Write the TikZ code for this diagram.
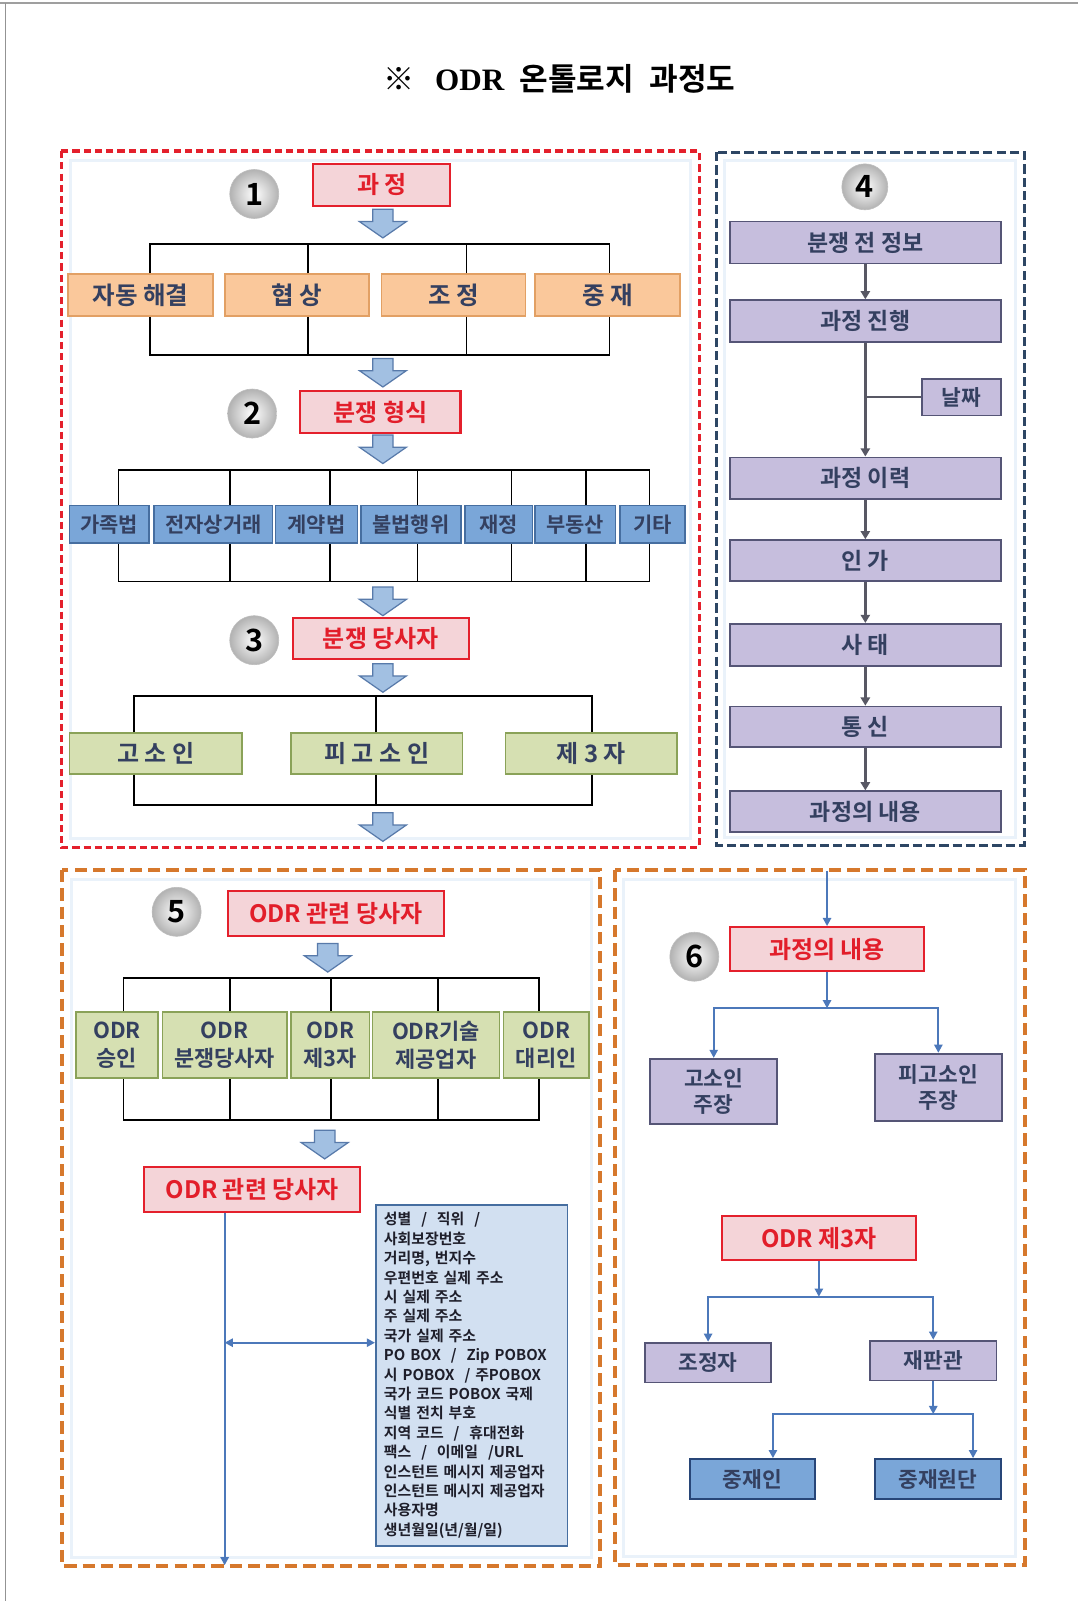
\documentclass[tikz,border=0pt]{standalone}
\usepackage{fontspec}
\setmainfont{Noto Sans CJK KR}[BoldFont={Noto Sans CJK KR Bold}]
\newfontfamily\titleserif{Liberation Serif}
\usetikzlibrary{calc,arrows.meta}

\definecolor{redline}{RGB}{228,32,44}
\definecolor{redfill}{RGB}{244,212,216}
\definecolor{redtext}{RGB}{226,30,42}
\definecolor{orgfill}{RGB}{250,200,155}
\definecolor{orgline}{RGB}{226,160,100}
\definecolor{bluefill}{RGB}{122,166,216}
\definecolor{blueline}{RGB}{70,110,160}
\definecolor{bluedark}{RGB}{40,70,120}
\definecolor{grnfill}{RGB}{214,224,178}
\definecolor{grnline}{RGB}{138,162,88}
\definecolor{purfill}{RGB}{198,190,221}
\definecolor{purline}{RGB}{85,85,118}
\definecolor{boxtext}{RGB}{52,64,96}
\definecolor{paneltwo}{RGB}{45,70,100}
\definecolor{panelorg}{RGB}{214,120,44}
\definecolor{arrfill}{RGB}{162,192,226}
\definecolor{arrline}{RGB}{88,122,170}
\definecolor{conblue}{RGB}{76,120,186}
\definecolor{congray}{RGB}{88,88,100}
\definecolor{infofill}{RGB}{210,224,241}
\definecolor{infotext}{RGB}{30,30,42}
\definecolor{glow}{RGB}{234,242,250}

\tikzset{
  basebox/.style={draw, line width=1.5pt, inner sep=0pt, align=center, text=boxtext},
  redbox/.style={basebox, draw=redline, fill=redfill, line width=2pt, text=redtext,
    font=\bfseries\fontsize{23.5}{27}\selectfont},
  orgbox/.style={basebox, draw=orgline, fill=orgfill, minimum height=41,
    font=\bfseries\fontsize{24}{28}\selectfont},
  bluebox/.style={basebox, draw=blueline, fill=bluefill, minimum height=37,
    font=\bfseries\fontsize{20.5}{24}\selectfont},
  grnbox/.style={basebox, draw=grnline, fill=grnfill,
    font=\bfseries\fontsize{23.5}{27}\selectfont},
  grnbox2/.style={basebox, draw=grnline, fill=grnfill, minimum height=65,
    font=\bfseries\fontsize{21.5}{27}\selectfont},
  purbox/.style={basebox, draw=purline, fill=purfill, line width=1.8pt,
    font=\bfseries\fontsize{22.5}{26}\selectfont},
  purbox2/.style={purbox, font=\bfseries\fontsize{21}{25}\selectfont},
  dblbox/.style={basebox, draw=bluedark, fill=bluefill, line width=1.8pt,
    font=\bfseries\fontsize{21}{24}\selectfont},
  infobox/.style={draw=blueline, fill=infofill, line width=1.5pt, inner xsep=8pt,
    inner ysep=0pt, align=left, text=infotext,
    font=\bfseries\fontsize{14.6}{19}\selectfont},
  numball/.style={circle, minimum size=48, inner sep=0pt, inner color=white,
    outer color={rgb,255:red,178;green,178;blue,178},
    draw={rgb,255:red,190;green,190;blue,190}, line width=0.6pt, text=black,
    font=\bfseries\fontsize{30}{32}\selectfont},
  tree/.style={draw=black, line width=1.7pt},
  garrow/.style={draw=congray, line width=2.4pt, -{Triangle[length=8pt,width=9pt]}},
  gline/.style={draw=congray, line width=2.4pt},
  barrow/.style={draw=conblue, line width=2pt, -{Triangle[length=8pt,width=8pt]}},
  bdarrow/.style={draw=conblue, line width=2pt,
    {Triangle[length=8pt,width=8pt]}-{Triangle[length=8pt,width=8pt]}},
  redpanel/.style={draw=redline, line width=3.2pt, dash pattern=on 7pt off 4pt},
  navypanel/.style={draw=paneltwo, line width=3pt, dash pattern=on 9pt off 4pt},
  orgpanel/.style={draw=panelorg, line width=4pt, dash pattern=on 12pt off 6pt},
  innerglow/.style={draw=glow, line width=3pt},
  darrow/.pic={
    \draw[fill=arrfill, draw=arrline, line width=1.2pt, line join=miter]
      (-10,0) -- (10,0) -- (10,12) -- (23,12) -- (0,28) -- (-23,12) -- (-10,12) -- cycle;
  }
}

\begin{document}
\begin{tikzpicture}[x=1pt, y=-1pt]
\useasboundingbox (0,0) rectangle (1056,1568);
\fill[white] (0,0) rectangle (1056,1568);

% page frame
\draw[gray!75, line width=1.5pt] (0,3) -- (1056,3);
\draw[gray!85, line width=1pt] (5,3) -- (5,1568);

% title
\node (title) at (548,77) {\bfseries\fontsize{30.5}{33}\selectfont ※\hspace{20pt}{\titleserif ODR}\hspace{15pt}온톨로지\hspace{15pt}과정도};

% panel frames
\draw[innerglow] (69,157) rectangle (676,821);
\draw[redpanel] (60,148) rectangle (685,830);
\draw[innerglow] (710,157) rectangle (995,820);
\draw[navypanel] (702,149) rectangle (1003,828);
\draw[innerglow] (70,861) rectangle (579,1525);
\draw[orgpanel] (61,852) rectangle (588,1534);
\draw[innerglow] (611,861) rectangle (995,1524);
\draw[orgpanel] (602,852) rectangle (1004,1533);

% ---------------- section 1: process ----------------
\node[numball] (n1) at (249,190) {1};
\node[redbox, minimum width=134, minimum height=41] (r1) at (374,181) {과 정};
\pic at (375,205) {darrow};

\node[orgbox, minimum width=142] (k1) at (137.5,289) {자동 해결};
\node[orgbox, minimum width=141] (k2) at (291,289) {협 상};
\node[orgbox, minimum width=141] (k3) at (444,289) {조 정};
\node[orgbox, minimum width=142] (k4) at (595,289) {중 재};

\coordinate (bt1) at (0,239);
\coordinate (bb1) at (0,348);
\draw[tree] ([xshift=9.5]k1.north) |- ([xshift=2]k4.north |- bt1) -- ([xshift=2]k4.north);
\draw[tree] ([xshift=9.5]k1.south) |- ([xshift=2]k4.south |- bb1) -- ([xshift=2]k4.south);
\foreach \n/\o in {k2/11,k3/13}{
  \draw[tree] ([xshift=\o]\n.north) -- ([xshift=\o]\n.north |- bt1);
  \draw[tree] ([xshift=\o]\n.south) -- ([xshift=\o]\n.south |- bb1);
}
\pic at (375,351) {darrow};

% ---------------- section 2: dispute type ----------------
\node[numball] (n2) at (247,405) {2};
\node[redbox, minimum width=157, minimum height=41] (r2) at (372.5,403.5) {분쟁 형식};
\pic at (375,426) {darrow};

\node[bluebox, minimum width=78] (b1) at (107,513.5) {가족법};
\node[bluebox, minimum width=116] (b2) at (209,513.5) {전자상거래};
\node[bluebox, minimum width=80] (b3) at (310,513.5) {계약법};
\node[bluebox, minimum width=98] (b4) at (402.5,513.5) {불법행위};
\node[bluebox, minimum width=66] (b5) at (488.5,513.5) {재정};
\node[bluebox, minimum width=79] (b6) at (563.5,513.5) {부동산};
\node[bluebox, minimum width=64] (b7) at (639,513.5) {기타};

\coordinate (bt2) at (0,460.5);
\coordinate (bb2) at (0,569.5);
\draw[tree] ([xshift=9]b1.north) |- ([xshift=-3]b7.north |- bt2) -- ([xshift=-3]b7.north);
\draw[tree] ([xshift=9]b1.south) |- ([xshift=-3]b7.south |- bb2) -- ([xshift=-3]b7.south);
\foreach \n/\o in {b2/16,b3/13,b4/6.5,b5/12.5,b6/10.5}{
  \draw[tree] ([xshift=\o]\n.north) -- ([xshift=\o]\n.north |- bt2);
  \draw[tree] ([xshift=\o]\n.south) -- ([xshift=\o]\n.south |- bb2);
}
\pic at (375,575) {darrow};

% ---------------- section 3: dispute parties ----------------
\node[numball] (n3) at (249,627) {3};
\node[redbox, minimum width=172, minimum height=40] (r3) at (373,625) {분쟁 당사자};
\pic at (375,650) {darrow};

\node[grnbox, minimum width=169, minimum height=40] (g1) at (152.5,738) {고 소 인};
\node[grnbox, minimum width=168, minimum height=40] (g2) at (369,738) {피 고 소 인};
\node[grnbox, minimum width=168, minimum height=40] (g3) at (579,738) {제 3 자};

\coordinate (bt3) at (0,681.5);
\coordinate (bb3) at (0,788.5);
\draw[tree] ([xshift=-21.5]g1.north) |- ([xshift=1]g3.north |- bt3) -- ([xshift=1]g3.north);
\draw[tree] ([xshift=-21.5]g1.south) |- ([xshift=1]g3.south |- bb3) -- ([xshift=1]g3.south);
\draw[tree] ([xshift=-1]g2.north) -- ([xshift=-1]g2.north |- bt3);
\draw[tree] ([xshift=-1]g2.south) -- ([xshift=-1]g2.south |- bb3);
\pic at (375,796) {darrow};

% ---------------- section 4: process record ----------------
\node[numball, minimum size=45] (n4) at (847,183) {4};
\node[purbox, minimum width=265, minimum height=41] (q1) at (847.5,237.5) {분쟁 전 정보};
\node[purbox, minimum width=265, minimum height=41] (q2) at (847.5,314.5) {과정 진행};
\node[purbox, minimum width=77, minimum height=36, font=\bfseries\fontsize{21}{24}\selectfont] (q3) at (941.5,389) {날짜};
\node[purbox, minimum width=265, minimum height=41] (q4) at (847.5,468.5) {과정 이력};
\node[purbox, minimum width=265, minimum height=40] (q5) at (847.5,549) {인 가};
\node[purbox, minimum width=265, minimum height=41] (q6) at (847.5,631.5) {사 태};
\node[purbox, minimum width=265, minimum height=40] (q7) at (847.5,712) {통 신};
\node[purbox, minimum width=265, minimum height=40] (q8) at (847.5,795) {과정의 내용};

\draw[garrow] (q1) -- (q2);
\draw[garrow] (q2) -- (q4);
\draw[gline] (q2.south |- q3.west) -- (q3.west);
\draw[garrow] (q4) -- (q5);
\draw[garrow] (q5) -- (q6);
\draw[garrow] (q6) -- (q7);
\draw[garrow] (q7) -- (q8);

% ---------------- section 5: ODR parties ----------------
\node[numball] (n5) at (173,893) {5};
\node[redbox, minimum width=212, minimum height=44] (o1) at (329,895) {ODR 관련 당사자};
\pic at (321,924) {darrow};

\node[grnbox2, minimum width=80] (p1) at (114.5,1023.5) {ODR\\승인};
\node[grnbox2, minimum width=122] (p2) at (220,1023.5) {ODR\\분쟁당사자};
\node[grnbox2, minimum width=77] (p3) at (323.5,1023.5) {ODR\\제3자};
\node[grnbox2, minimum width=124] (p4) at (427,1023.5) {ODR기술\\제공업자};
\node[grnbox2, minimum width=84] (p5) at (535,1023.5) {ODR\\대리인};

\coordinate (bt5) at (0,958);
\coordinate (bb5) at (0,1097);
\draw[tree] ([xshift=6.5]p1.north) |- ([xshift=-7]p5.north |- bt5) -- ([xshift=-7]p5.north);
\draw[tree] ([xshift=6.5]p1.south) |- ([xshift=-7]p5.south |- bb5) -- ([xshift=-7]p5.south);
\foreach \n/\o in {p2/5,p3/0.5,p4/2}{
  \draw[tree] ([xshift=\o]\n.north) -- ([xshift=\o]\n.north |- bt5);
  \draw[tree] ([xshift=\o]\n.south) -- ([xshift=\o]\n.south |- bb5);
}
\pic at (318,1107) {darrow};

\node[redbox, minimum width=212, minimum height=44] (o2) at (247,1165) {ODR 관련 당사자};

\node[infobox, minimum width=188, minimum height=334, text width=172] (info) at (462,1347) {%
성별\ \ /\ \ 직위\ \ /\\
사회보장번호\\
거리명, 번지수\\
우편번호 실제 주소\\
시 실제 주소\\
주 실제 주소\\
국가 실제 주소\\
PO BOX\ \ /\ \ Zip POBOX\\
시 POBOX\ \ / 주POBOX\\
국가 코드 POBOX 국제\\
식별 전치 부호\\
지역 코드\ \ /\ \ 휴대전화\\
팩스\ \ /\ \ 이메일\ \ /URL\\
인스턴트 메시지 제공업자\\
인스턴트 메시지 제공업자\\
사용자명\\
생년월일(년/월/일)};

\coordinate (e5) at (220,1533);
\coordinate (m5) at (220,1315);
\draw[barrow] ([xshift=-27]o2.south) -- (e5);
\draw[bdarrow] (m5) -- (info.west |- m5);

% ---------------- section 6: claims and third parties ----------------
\coordinate (in6) at (810,853);
\node[numball] (n6) at (680,937) {6};
\node[redbox, minimum width=190, minimum height=43] (c6) at (810,929.5) {과정의 내용};
\draw[barrow] (in6) -- (c6.north);

\node[purbox2, minimum width=124, minimum height=64] (s1) at (699,1069) {고소인\\주장};
\node[purbox2, minimum width=124, minimum height=66] (s2) at (919,1065) {피고소인\\주장};
\coordinate (bt6) at (0,987.5);
\draw[barrow] (c6.south) -- (c6.south |- bt6);
\draw[barrow] (c6.south |- bt6) -| (s1.north);
\draw[barrow] (c6.south |- bt6) -| (s2.north);

\node[redbox, minimum width=190, minimum height=43] (c7) at (802,1212.5) {ODR 제3자};
\node[purbox2, minimum width=123, minimum height=39] (t1) at (693.5,1334.5) {조정자};
\node[purbox2, minimum width=124, minimum height=39] (t2) at (914,1332.5) {재판관};
\coordinate (bt7) at (0,1270);
\draw[barrow] (c7.south) -- (c7.south |- bt7);
\draw[barrow] (c7.south |- bt7) -| (t1.north);
\draw[barrow] (c7.south |- bt7) -| (t2.north);

\node[dblbox, minimum width=122, minimum height=39] (u1) at (737,1448.5) {중재인};
\node[dblbox, minimum width=123, minimum height=39] (u2) at (918.5,1448.5) {중재원단};
\coordinate (bt8) at (0,1385);
\draw[barrow] (t2.south) -- (t2.south |- bt8);
\draw[barrow] (t2.south |- bt8) -| ([xshift=20]u1.north);
\draw[barrow] (t2.south |- bt8) -| ([xshift=34.5]u2.north);

\end{tikzpicture}
\end{document}
